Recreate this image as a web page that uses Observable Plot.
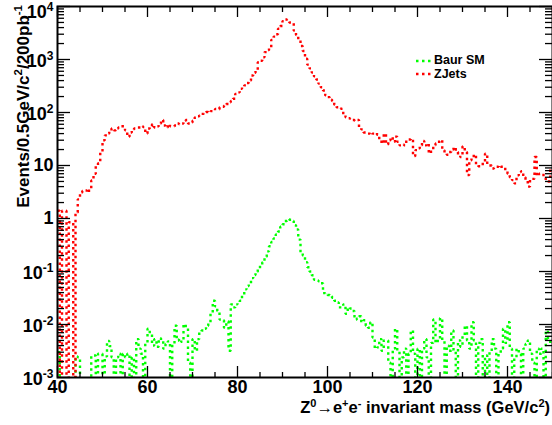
<!DOCTYPE html>
<html><head><meta charset="utf-8">
<script src="https://cdn.jsdelivr.net/npm/d3@7"></script>
<script src="https://cdn.jsdelivr.net/npm/@observablehq/plot@0.6"></script>
<style>
body{margin:0;background:#fff;font-family:"Liberation Sans",Arial,sans-serif;}
#wrap{position:relative;width:552px;height:425px;overflow:hidden;}
#legend{position:absolute;left:416px;top:54px;font-weight:bold;font-size:12.5px;line-height:13.5px;}
#legend div{display:flex;align-items:center;white-space:nowrap;}
#legend svg{margin-right:2px;}
</style></head><body><div id="wrap"><div id="chart"></div><div id="legend"></div></div>
<script>
// histogram: 0.5 GeV bins from 40 to 150 GeV
const binLow = 40, binWidth = 0.5, binHigh = 150;
const zjets = [
  1.4, 0, 1.4, 1.4, 0, 0.85, 0.85, 0,
  1.3, 2.3, 3.1, 3.3, 3.4, 3.1, 3.7, 5.2,
  7, 10, 11, 18, 30, 37, 40, 45,
  50, 46, 50, 52, 55, 55, 46, 35,
  42, 48, 50, 52, 52, 55, 53, 40,
  50, 55, 60, 52, 55, 62, 72, 57,
  52, 60, 55, 55, 57, 62, 60, 62,
  70, 72, 62, 65, 70, 81, 85, 88,
  94, 96, 102, 100, 106, 108, 117, 115,
  126, 128, 135, 145, 156, 165, 182, 225,
  240, 280, 300, 325, 360, 400, 500, 560,
  620, 890, 950, 1100, 1380, 1500, 1700, 2350,
  2700, 3000, 3800, 4300, 5300, 5700, 5600, 5000,
  4900, 3500, 2900, 2300, 1800, 1450, 1030, 800,
  680, 570, 480, 420, 350, 300, 260, 210,
  195, 175, 165, 140, 126, 120, 117, 90,
  81, 78, 76, 72, 70, 72, 53, 48,
  42, 41, 40, 38, 40, 41, 38, 30,
  26, 40, 25, 30, 34, 28, 35, 28,
  24, 25, 24, 30, 31, 32, 15, 19.5,
  21, 24, 29, 24, 26, 17, 19.5, 24,
  26, 28, 30, 19.5, 17, 16, 18, 20,
  22, 18, 16, 14.5, 23, 18, 6.6, 12.5,
  14, 16, 10.5, 9.7, 10, 11.5, 16.7, 10,
  10, 8.8, 9, 9.5, 10, 9.5, 9.3, 8,
  7, 6, 5.3, 4.6, 6.5, 7.5, 7.8, 6,
  5.4, 4.0, 5.6, 5.6, 14.5, 6.4, 7, 7,
  6, 5.3, 5, 8.7
];
const baur = [
  0.003, 0, 0, 0, 0, 0, 0, 0,
  0.0025, 0.0024, 0, 0, 0, 0, 0, 0.0026,
  0.0026, 0, 0.0028, 0.0028, 0, 0.0025, 0.0049, 0.0039,
  0.0024, 0, 0.0024, 0.0028, 0, 0.0028, 0.0024, 0.0028,
  0, 0.0024, 0, 0.0053, 0.0035, 0.0028, 0, 0.0045,
  0.0083, 0.0066, 0.004, 0.0053, 0.0038, 0.0055, 0.005, 0.0035,
  0.0043, 0.0048, 0, 0.0043, 0.0095, 0.005, 0.0053, 0.0047,
  0.0101, 0.0087, 0.0019, 0, 0.0053, 0.0032, 0.0053, 0.0073,
  0.0077, 0.0083, 0.0095, 0.011, 0.0166, 0.028, 0.022, 0.018,
  0.0124, 0.012, 0.0087, 0.0114, 0.0032, 0.024, 0.021, 0.024,
  0.026, 0.028, 0.037, 0.046, 0.053, 0.06, 0.075, 0.086,
  0.099, 0.11, 0.13, 0.15, 0.19, 0.24, 0.3, 0.36,
  0.42, 0.5, 0.57, 0.7, 0.78, 0.9, 0.97, 0.95,
  0.9, 0.75, 0.62, 0.4, 0.23, 0.2, 0.15, 0.12,
  0.1, 0.085, 0.07, 0.068, 0.065, 0.06, 0.039, 0.037,
  0.036, 0.034, 0.032, 0.028, 0.026, 0.021, 0.021, 0.024,
  0.016, 0.021, 0.02, 0.018, 0.0124, 0.013, 0.0143, 0.011,
  0.012, 0.0095, 0.0087, 0.011, 0.0057, 0.0035, 0.0037, 0.0053,
  0.0032, 0.005, 0.005, 0.0019, 0, 0.0035, 0.0083, 0.0032,
  0, 0.0024, 0.0035, 0, 0.0028, 0.0077, 0.0028, 0,
  0.0035, 0, 0.0035, 0.0053, 0.0024, 0, 0.0045, 0.0124,
  0.0045, 0.0053, 0.0132, 0.005, 0, 0.004, 0.0032, 0.0077,
  0.0032, 0, 0.005, 0.0038, 0.0062, 0.0095, 0.005, 0.0035,
  0.011, 0.005, 0, 0.0045, 0.0053, 0, 0.0026, 0,
  0.003, 0.0053, 0.0035, 0, 0.0028, 0.0035, 0.0083, 0.0045,
  0.011, 0.0035, 0, 0.0024, 0.0035, 0.0028, 0, 0.0035,
  0.0043, 0.005, 0.0028, 0.0019, 0, 0.0035, 0.0028, 0.0035,
  0, 0.0077, 0.0053, 0.0043
];
const seriesNames = ["Baur SM", "ZJets"];
const seriesColors = ["#00ff00", "#ff0000"];
const xMajorTicks = [40, 60, 80, 100, 120, 140];
const xMinorTicks = [45, 50, 55, 65, 70, 75, 85, 90, 95, 105, 110, 115, 125, 130, 135, 145, 150];
const yMajorTicks = [1e-3, 1e-2, 1e-1, 1, 10, 100, 1000, 10000];
const yTickBase = ["10", "10", "10", "1", "10", "10", "10", "10"];
const yTickExp = ["-3", "-2", "-1", "", "", "2", "3", "4"];
const yMinorMult = [2, 3, 4, 5, 6, 7, 8, 9];
const yTitle = [["Events/0.5GeV/c", ""], ["2", "sup"], ["/200pb", ""], ["-1", "sup"]];
const xTitle = [["Z", ""], ["0", "sup"], ["\u2192e", ""], ["+", "sup"], ["e", ""], ["-", "sup"], [" invariant mass (GeV/c", ""], ["2", "sup"], [")", ""]];

const W = 552, H = 425, mL = 57, mR = 0, mT = 6, mB = 48;
const pw = W - mL - mR, ph = H - mT - mB;

function toSteps(values) {
  const rows = values.map((v, i) => ({x: binLow + i * binWidth, y: v > 0 ? v : 1e-9}));
  rows.push({x: binHigh, y: rows[rows.length - 1].y});
  return rows;
}
const yMinorTicks = [];
for (const d of yMajorTicks.slice(0, -1)) for (const m of yMinorMult) yMinorTicks.push(d * m);

const lineStyle = {x: "x", y: "y", curve: "step-after", strokeWidth: 2.4, strokeDasharray: "2.5,3.5",
  strokeLinecap: "butt", strokeLinejoin: "miter", clip: true};

const chart = Plot.plot({
  width: W, height: H, marginLeft: mL, marginRight: mR, marginTop: mT, marginBottom: mB,
  x: {domain: [binLow, binHigh], label: null},
  y: {type: "log", domain: [1e-3, 1e4], label: null},
  style: {fontFamily: "Liberation Sans, Arial, sans-serif", fontWeight: "bold", fontSize: "18px", color: "black", background: "white"},
  marks: [
    Plot.line(toSteps(baur), {...lineStyle, stroke: seriesColors[0]}),
    Plot.line(toSteps(zjets), {...lineStyle, stroke: seriesColors[1]}),
    Plot.ruleY(yMajorTicks, {y: d => d, insetRight: pw - 13, stroke: "black", strokeWidth: 1.3}),
    Plot.ruleY(yMajorTicks, {y: d => d, insetLeft: pw - 13, stroke: "black", strokeWidth: 1.3}),
    Plot.ruleY(yMinorTicks, {y: d => d, insetRight: pw - 7, stroke: "black", strokeWidth: 1.3}),
    Plot.ruleY(yMinorTicks, {y: d => d, insetLeft: pw - 7, stroke: "black", strokeWidth: 1.3}),
    Plot.ruleX(xMajorTicks, {x: d => d, insetTop: ph - 11, stroke: "black", strokeWidth: 1.3}),
    Plot.ruleX(xMajorTicks, {x: d => d, insetBottom: ph - 11, stroke: "black", strokeWidth: 1.3}),
    Plot.ruleX(xMinorTicks, {x: d => d, insetTop: ph - 5, stroke: "black", strokeWidth: 1.3}),
    Plot.ruleX(xMinorTicks, {x: d => d, insetBottom: ph - 6, stroke: "black", strokeWidth: 1.3}),
    Plot.frame({stroke: "black", strokeWidth: 2}),
    Plot.axisY({ticks: yMajorTicks, tickSize: 0, tickPadding: 4, fontSize: 18, fontWeight: "bold", label: null,
      tickFormat: d => { const i = yMajorTicks.indexOf(d); return yTickBase[i] + "|" + yTickExp[i]; }}),
    Plot.axisX({ticks: xMajorTicks, tickSize: 0, tickPadding: 3, fontSize: 18, fontWeight: "bold", label: null,
      tickFormat: d => String(d)})
  ]
});
document.getElementById("chart").appendChild(chart);

const svg = d3.select(chart);
svg.selectAll('g[aria-label="y-axis tick label"] text').each(function () {
  const parts = this.textContent.split("|");
  const t = d3.select(this);
  t.text(parts[0]);
  if (parts[1]) {
    t.append("tspan").attr("dy", "-7").attr("font-size", "12px").text(parts[1]);
    t.attr("transform", (t.attr("transform") || "") + " translate(0,2)");
  }
  if (parts[0] === "10" && parts[1] === "4") t.attr("transform", (t.attr("transform") || "") + " translate(0,4)");
});

function richText(sel, pieces, supSize, shift) {
  let raised = false;
  for (const [s, kind] of pieces) {
    const ts = sel.append("tspan").text(s);
    if (kind === "sup") { ts.attr("font-size", supSize).attr("dy", -shift); raised = true; }
    else if (raised) { ts.attr("dy", shift); raised = false; }
  }
}
const yt = svg.append("text").attr("transform", "translate(29,5) rotate(-90)")
  .attr("text-anchor", "end").attr("font-size", "17px").attr("font-weight", "bold").attr("fill", "black");
richText(yt, yTitle, "11.5px", 7);
const xt = svg.append("text").attr("x", 550).attr("y", 413)
  .attr("text-anchor", "end").attr("font-size", "16.5px").attr("font-weight", "bold").attr("fill", "black");
richText(xt, xTitle, "11px", 6);

const legend = d3.select("#legend");
seriesNames.forEach((name, i) => {
  const row = legend.append("div");
  const s = row.append("svg").attr("width", 16).attr("height", 8);
  s.append("line").attr("x1", 0).attr("x2", 16).attr("y1", 4).attr("y2", 4)
    .attr("stroke", seriesColors[i]).attr("stroke-width", 2.4).attr("stroke-dasharray", "2.5,3.5");
  row.append("span").text(name);
});
</script></body></html>
